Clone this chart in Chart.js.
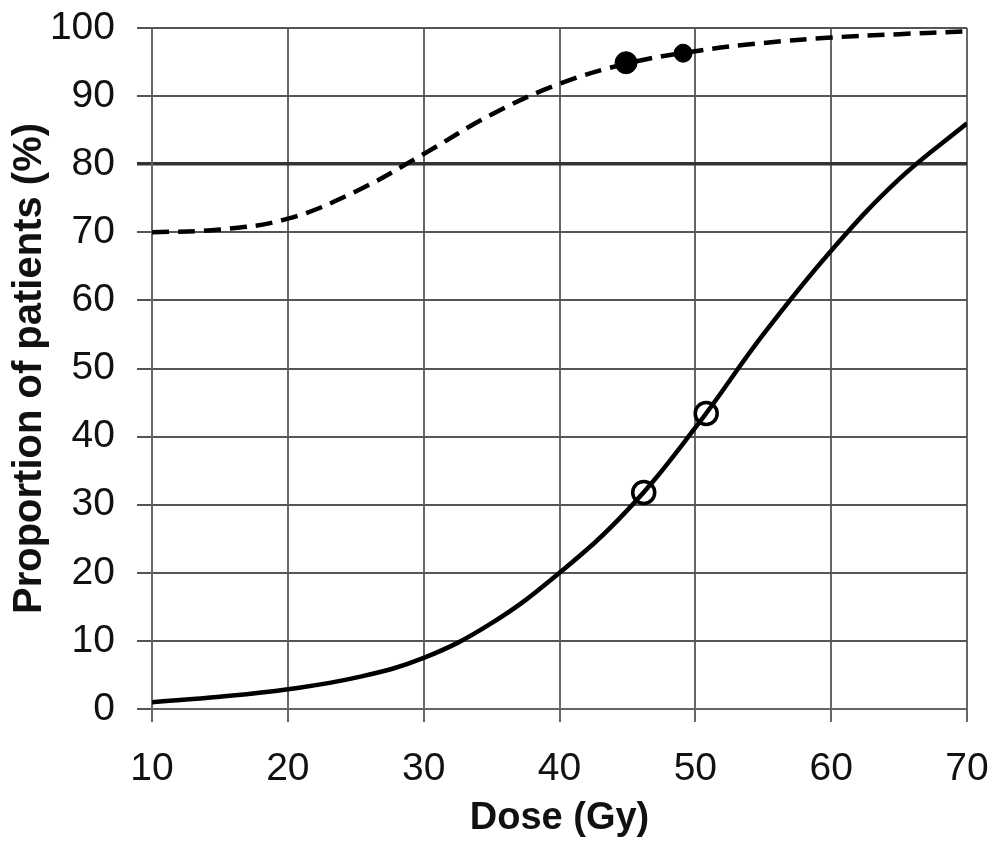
<!DOCTYPE html>
<html lang="en">
<head>
    <meta charset="UTF-8">
    <title>Proportion of patients vs dose</title>
    <script src="https://cdn.jsdelivr.net/npm/chart.js"></script>
    <style>
        html, body { margin: 0; padding: 0; background: #fff; }
        #wrap { width: 994px; height: 841px; }
    </style>
</head>
<body>
    <div id="wrap"><canvas id="myChart"></canvas></div>
    <script>
        // Data
        const doses = [10, 15, 20, 25, 30, 35, 40, 45, 50, 55, 60, 65, 70];
        const solidCurve = [1.0, 1.8, 2.9, 4.6, 7.5, 12.6, 20.0, 29.2, 41.3, 55.0, 67.3, 77.8, 86.0];
        const dashedCurve = [70.0, 70.4, 72.0, 76.0, 81.5, 87.3, 91.8, 94.8, 96.6, 97.8, 98.6, 99.1, 99.5];
        const filledDoses = [44.9, 49.1];
        const filledValues = [94.9, 96.3];
        const openDoses = [46.2, 50.8];
        const openValues = [31.8, 43.4];
        const xTicks = [10, 20, 30, 40, 50, 60, 70];
        const yTicks = [0, 10, 20, 30, 40, 50, 60, 70, 80, 90, 100];

        const toPoints = (xs, ys) => xs.map((x, i) => ({ x: x, y: ys[i] }));
        const FONT = "'Liberation Sans', Arial, sans-serif";

        const ctx = document.getElementById('myChart').getContext('2d');
        const myChart = new Chart(ctx, {
            type: 'line',
            data: {
                datasets: [
                    {
                        data: toPoints(doses, dashedCurve),
                        borderColor: '#000',
                        borderWidth: 4.5,
                        borderDash: [17, 9],
                        pointRadius: 0,
                        tension: 0.4
                    },
                    {
                        data: toPoints(doses, solidCurve),
                        borderColor: '#000',
                        borderWidth: 4.5,
                        pointRadius: 0,
                        tension: 0.4
                    },
                    {
                        data: toPoints(filledDoses, filledValues),
                        showLine: false,
                        pointRadius: [11, 9],
                        pointBackgroundColor: '#000',
                        pointBorderColor: '#000',
                        pointBorderWidth: 1
                    },
                    {
                        data: toPoints(openDoses, openValues),
                        showLine: false,
                        pointRadius: 11,
                        pointBackgroundColor: '#fff',
                        pointBorderColor: '#000',
                        pointBorderWidth: 3.5
                    }
                ]
            },
            options: {
                responsive: true,
                maintainAspectRatio: false,
                animation: false,
                layout: { padding: { top: 28, right: 27, left: 0, bottom: 0 } },
                plugins: { legend: { display: false }, tooltip: { enabled: false } },
                scales: {
                    x: {
                        type: 'linear',
                        min: 10,
                        max: 70,
                        afterBuildTicks: axis => { axis.ticks = xTicks.map(v => ({ value: v })); },
                        afterFit: axis => {
                            axis.height = 132;
                            axis.paddingLeft = 0;
                            axis.paddingRight = 0;
                        },
                        grid: { color: '#666', lineWidth: 2, tickLength: 13 },
                        border: { color: '#666', width: 2 },
                        ticks: { color: '#111', padding: 24, font: { family: FONT, size: 39 } },
                        title: {
                            display: true,
                            text: 'Dose (Gy)',
                            color: '#111',
                            padding: { top: 0, bottom: 0 },
                            font: { family: FONT, size: 38, weight: 'bold' }
                        }
                    },
                    y: {
                        min: 0,
                        max: 100,
                        afterBuildTicks: axis => { axis.ticks = yTicks.map(v => ({ value: v })); },
                        afterFit: axis => {
                            axis.width = 152;
                            axis.paddingTop = 0;
                            axis.paddingBottom = 0;
                        },
                        grid: {
                            color: ctx => ctx.tick && ctx.tick.value === 80 ? '#333' : '#555',
                            lineWidth: ctx => ctx.tick && ctx.tick.value === 80 ? 3.5 : 2,
                            tickLength: 15
                        },
                        border: { color: '#666', width: 2 },
                        ticks: { color: '#111', padding: 22, font: { family: FONT, size: 39 } },
                        title: {
                            display: true,
                            text: 'Proportion of patients (%)',
                            color: '#111',
                            padding: { top: 6, bottom: 0 },
                            font: { family: FONT, size: 40, weight: 'bold' }
                        }
                    }
                }
            }
        });
    </script>
</body>
</html>
